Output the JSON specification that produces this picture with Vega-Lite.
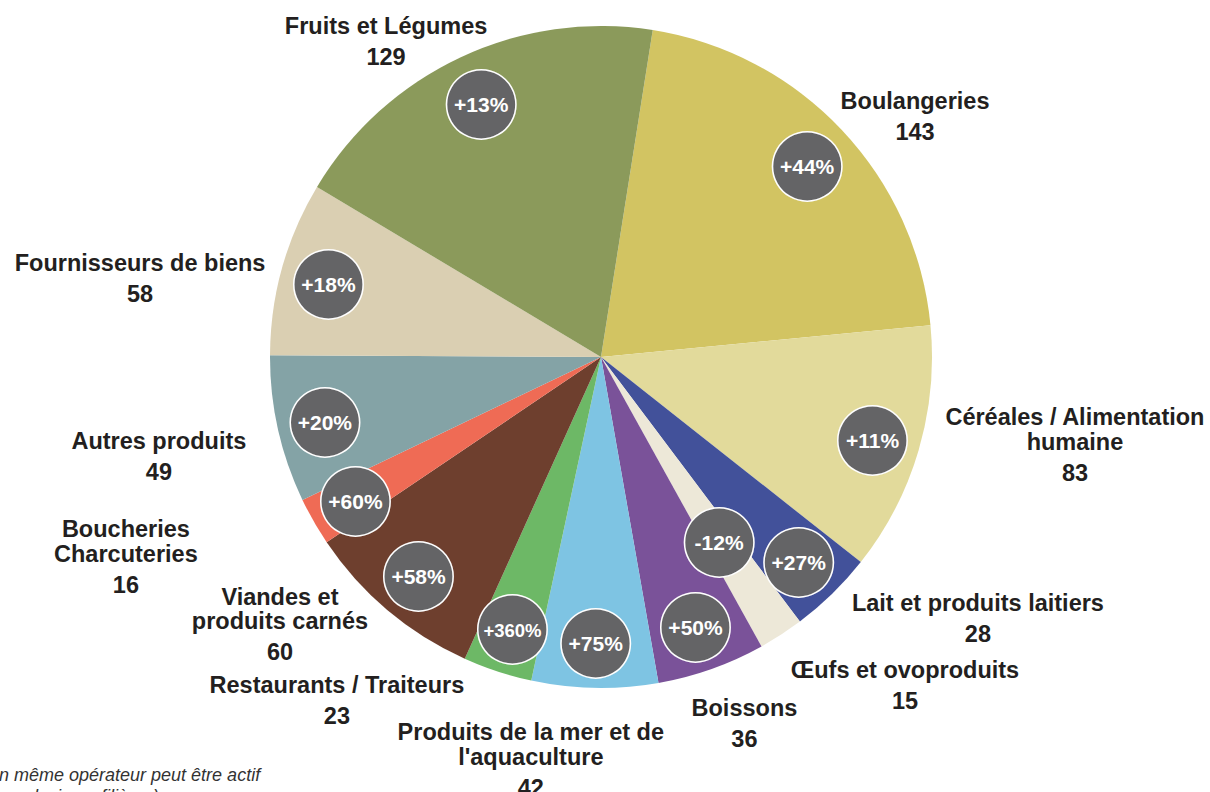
{
  "$schema": "https://vega.github.io/schema/vega-lite/v6.json",
  "autosize": "none",
  "width": 1202,
  "height": 714,
  "padding": {"left": 0, "top": 0, "right": 8, "bottom": 78},
  "background": "white",
  "config": {"view": {"stroke": null}},
  "title": {
    "text": ["(Un même opérateur peut être actif", "dans plusieurs filières)"],
    "orient": "bottom", "anchor": "start", "frame": "group",
    "offset": -135, "dx": -20, "baseline": "top", "align": "left",
    "font": "Liberation Sans", "fontSize": 18, "fontStyle": "italic", "fontWeight": "normal",
    "color": "#333333", "lineHeight": 21
  },
  "data": {"values": [
    {"o": 1, "k": "boul", "label": "Boulangeries", "n": 143, "pct": "+44%"},
    {"o": 2, "k": "cer", "label": "Céréales / Alimentation\nhumaine", "n": 83, "pct": "+11%"},
    {"o": 3, "k": "lait", "label": "Lait et produits laitiers", "n": 28, "pct": "+27%"},
    {"o": 4, "k": "oeufs", "label": "Œufs et ovoproduits", "n": 15, "pct": "-12%"},
    {"o": 5, "k": "boiss", "label": "Boissons", "n": 36, "pct": "+50%"},
    {"o": 6, "k": "prod", "label": "Produits de la mer et de\nl'aquaculture", "n": 42, "pct": "+75%"},
    {"o": 7, "k": "rest", "label": "Restaurants / Traiteurs", "n": 23, "pct": "+360%"},
    {"o": 8, "k": "viand", "label": "Viandes et\nproduits carnés", "n": 60, "pct": "+58%"},
    {"o": 9, "k": "bouch", "label": "Boucheries\nCharcuteries", "n": 16, "pct": "+60%"},
    {"o": 10, "k": "autres", "label": "Autres produits", "n": 49, "pct": "+20%"},
    {"o": 11, "k": "fourn", "label": "Fournisseurs de biens", "n": 58, "pct": "+18%"},
    {"o": 12, "k": "fruits", "label": "Fruits et Légumes", "n": 129, "pct": "+13%"}
  ]},
  "encoding": {
    "theta": {"field": "n", "type": "quantitative", "stack": true, "scale": {"range": [0.157, 6.4402], "nice": false}},
    "order": {"field": "o", "type": "quantitative"},
    "detail": {"field": "k", "type": "nominal"}
  },
  "layer": [
    {"mark": {"type": "arc", "radius": 331},
     "encoding": {"color": {"field": "k", "type": "nominal", "legend": null,
       "scale": {"domain": ["boul", "cer", "lait", "oeufs", "boiss", "prod", "rest", "viand", "bouch", "autres", "fourn", "fruits"],
                 "range": ["#d2c462", "#e2da9b", "#42519a", "#ede8d8", "#7a5299", "#7ec4e3", "#6db866", "#6e3f2e", "#ef6b55", "#84a3a6", "#dacfb2", "#8b9a5b"]}}}},
    {"mark": {"type": "text", "radius": 283, "font": "DejaVu Sans", "fontSize": 91, "fill": "#646466", "stroke": "#ffffff", "strokeWidth": 1.5, "baseline": "middle", "align": "center"},
     "encoding": {"text": {"condition": {"test": "datum.k !== 'oeufs'", "value": "●"}, "value": ""}}},
    {"mark": {"type": "text", "radius": 217, "font": "DejaVu Sans", "fontSize": 91, "fill": "#646466", "stroke": "#ffffff", "strokeWidth": 1.5, "baseline": "middle", "align": "center"},
     "encoding": {"text": {"condition": {"test": "datum.k === 'oeufs'", "value": "●"}, "value": ""}}},
    {"mark": {"type": "text", "radius": 283, "dy": 5, "font": "Liberation Sans", "fontWeight": "bold", "fill": "#ffffff", "baseline": "middle", "align": "center"},
     "encoding": {"text": {"condition": {"test": "datum.k !== 'oeufs'", "field": "pct", "type": "nominal"}, "value": ""},
                  "size": {"condition": {"test": "datum.k === 'rest'", "value": 18.5}, "value": 21}}},
    {"mark": {"type": "text", "radius": 217, "dy": 5, "font": "Liberation Sans", "fontWeight": "bold", "fontSize": 21, "fill": "#ffffff", "baseline": "middle", "align": "center"},
     "encoding": {"text": {"condition": {"test": "datum.k === 'oeufs'", "field": "pct", "type": "nominal"}, "value": ""}}},

    {"mark": {"type": "text", "radius": 395.8, "thetaOffset": 0.1007, "baseline": "bottom", "dy": -2, "align": "center", "lineBreak": "\n", "lineHeight": 24.5, "font": "Liberation Sans", "fontWeight": "bold", "fontSize": 23.5, "fill": "#231f20"},
     "encoding": {"text": {"condition": {"test": "datum.k === 'boul'", "field": "label", "type": "nominal"}, "value": ""}}},
    {"mark": {"type": "text", "radius": 395.8, "thetaOffset": 0.1007, "baseline": "top", "dy": 5, "align": "center", "font": "Liberation Sans", "fontWeight": "bold", "fontSize": 23.5, "fill": "#231f20"},
     "encoding": {"text": {"condition": {"test": "datum.k === 'boul'", "field": "n", "type": "quantitative"}, "value": ""}}},

    {"mark": {"type": "text", "radius": 484.3, "thetaOffset": -0.0789, "baseline": "bottom", "dy": -26.5, "align": "center", "lineBreak": "\n", "lineHeight": 24.5, "font": "Liberation Sans", "fontWeight": "bold", "fontSize": 23.5, "fill": "#231f20"},
     "encoding": {"text": {"condition": {"test": "datum.k === 'cer'", "field": "label", "type": "nominal"}, "value": ""}}},
    {"mark": {"type": "text", "radius": 484.3, "thetaOffset": -0.0789, "baseline": "top", "dy": 5, "align": "center", "font": "Liberation Sans", "fontWeight": "bold", "fontSize": 23.5, "fill": "#231f20"},
     "encoding": {"text": {"condition": {"test": "datum.k === 'cer'", "field": "n", "type": "quantitative"}, "value": ""}}},

    {"mark": {"type": "text", "radius": 458.5, "thetaOffset": -0.1915, "baseline": "bottom", "dy": -2, "align": "center", "lineBreak": "\n", "lineHeight": 24.5, "font": "Liberation Sans", "fontWeight": "bold", "fontSize": 23.5, "fill": "#231f20"},
     "encoding": {"text": {"condition": {"test": "datum.k === 'lait'", "field": "label", "type": "nominal"}, "value": ""}}},
    {"mark": {"type": "text", "radius": 458.5, "thetaOffset": -0.1915, "baseline": "top", "dy": 5, "align": "center", "font": "Liberation Sans", "fontWeight": "bold", "fontSize": 23.5, "fill": "#231f20"},
     "encoding": {"text": {"condition": {"test": "datum.k === 'lait'", "field": "n", "type": "quantitative"}, "value": ""}}},

    {"mark": {"type": "text", "radius": 447.2, "thetaOffset": -0.1719, "baseline": "bottom", "dy": -2, "align": "center", "lineBreak": "\n", "lineHeight": 24.5, "font": "Liberation Sans", "fontWeight": "bold", "fontSize": 23.5, "fill": "#231f20"},
     "encoding": {"text": {"condition": {"test": "datum.k === 'oeufs'", "field": "label", "type": "nominal"}, "value": ""}}},
    {"mark": {"type": "text", "radius": 447.2, "thetaOffset": -0.1719, "baseline": "top", "dy": 5, "align": "center", "font": "Liberation Sans", "fontWeight": "bold", "fontSize": 23.5, "fill": "#231f20"},
     "encoding": {"text": {"condition": {"test": "datum.k === 'oeufs'", "field": "n", "type": "quantitative"}, "value": ""}}},

    {"mark": {"type": "text", "radius": 393.1, "thetaOffset": -0.033, "baseline": "bottom", "dy": -2, "align": "center", "lineBreak": "\n", "lineHeight": 24.5, "font": "Liberation Sans", "fontWeight": "bold", "fontSize": 23.5, "fill": "#231f20"},
     "encoding": {"text": {"condition": {"test": "datum.k === 'boiss'", "field": "label", "type": "nominal"}, "value": ""}}},
    {"mark": {"type": "text", "radius": 393.1, "thetaOffset": -0.033, "baseline": "top", "dy": 5, "align": "center", "font": "Liberation Sans", "fontWeight": "bold", "fontSize": 23.5, "fill": "#231f20"},
     "encoding": {"text": {"condition": {"test": "datum.k === 'boiss'", "field": "n", "type": "quantitative"}, "value": ""}}},

    {"mark": {"type": "text", "radius": 420.4, "thetaOffset": 0.1489, "baseline": "bottom", "dy": -26.5, "align": "center", "lineBreak": "\n", "lineHeight": 24.5, "font": "Liberation Sans", "fontWeight": "bold", "fontSize": 23.5, "fill": "#231f20"},
     "encoding": {"text": {"condition": {"test": "datum.k === 'prod'", "field": "label", "type": "nominal"}, "value": ""}}},
    {"mark": {"type": "text", "radius": 420.4, "thetaOffset": 0.1489, "baseline": "top", "dy": 5, "align": "center", "font": "Liberation Sans", "fontWeight": "bold", "fontSize": 23.5, "fill": "#231f20"},
     "encoding": {"text": {"condition": {"test": "datum.k === 'prod'", "field": "n", "type": "quantitative"}, "value": ""}}},

    {"mark": {"type": "text", "radius": 432.8, "thetaOffset": 0.3381, "baseline": "bottom", "dy": -2, "align": "center", "lineBreak": "\n", "lineHeight": 24.5, "font": "Liberation Sans", "fontWeight": "bold", "fontSize": 23.5, "fill": "#231f20"},
     "encoding": {"text": {"condition": {"test": "datum.k === 'rest'", "field": "label", "type": "nominal"}, "value": ""}}},
    {"mark": {"type": "text", "radius": 432.8, "thetaOffset": 0.3381, "baseline": "top", "dy": 5, "align": "center", "font": "Liberation Sans", "fontWeight": "bold", "fontSize": 23.5, "fill": "#231f20"},
     "encoding": {"text": {"condition": {"test": "datum.k === 'rest'", "field": "n", "type": "quantitative"}, "value": ""}}},

    {"mark": {"type": "text", "radius": 425.6, "thetaOffset": 0.1541, "baseline": "bottom", "dy": -26.5, "align": "center", "lineBreak": "\n", "lineHeight": 24.5, "font": "Liberation Sans", "fontWeight": "bold", "fontSize": 23.5, "fill": "#231f20"},
     "encoding": {"text": {"condition": {"test": "datum.k === 'viand'", "field": "label", "type": "nominal"}, "value": ""}}},
    {"mark": {"type": "text", "radius": 425.6, "thetaOffset": 0.1541, "baseline": "top", "dy": 5, "align": "center", "font": "Liberation Sans", "fontWeight": "bold", "fontSize": 23.5, "fill": "#231f20"},
     "encoding": {"text": {"condition": {"test": "datum.k === 'viand'", "field": "n", "type": "quantitative"}, "value": ""}}},

    {"mark": {"type": "text", "radius": 520.2, "thetaOffset": 0.1007, "baseline": "bottom", "dy": -26.5, "align": "center", "lineBreak": "\n", "lineHeight": 24.5, "font": "Liberation Sans", "fontWeight": "bold", "fontSize": 23.5, "fill": "#231f20"},
     "encoding": {"text": {"condition": {"test": "datum.k === 'bouch'", "field": "label", "type": "nominal"}, "value": ""}}},
    {"mark": {"type": "text", "radius": 520.2, "thetaOffset": 0.1007, "baseline": "top", "dy": 5, "align": "center", "font": "Liberation Sans", "fontWeight": "bold", "fontSize": 23.5, "fill": "#231f20"},
     "encoding": {"text": {"condition": {"test": "datum.k === 'bouch'", "field": "n", "type": "quantitative"}, "value": ""}}},

    {"mark": {"type": "text", "radius": 453.1, "thetaOffset": 0, "baseline": "bottom", "dy": -2, "align": "center", "lineBreak": "\n", "lineHeight": 24.5, "font": "Liberation Sans", "fontWeight": "bold", "fontSize": 23.5, "fill": "#231f20"},
     "encoding": {"text": {"condition": {"test": "datum.k === 'autres'", "field": "label", "type": "nominal"}, "value": ""}}},
    {"mark": {"type": "text", "radius": 453.1, "thetaOffset": 0, "baseline": "top", "dy": 5, "align": "center", "font": "Liberation Sans", "fontWeight": "bold", "fontSize": 23.5, "fill": "#231f20"},
     "encoding": {"text": {"condition": {"test": "datum.k === 'autres'", "field": "n", "type": "quantitative"}, "value": ""}}},

    {"mark": {"type": "text", "radius": 467.7, "thetaOffset": -0.1023, "baseline": "bottom", "dy": -2, "align": "center", "lineBreak": "\n", "lineHeight": 24.5, "font": "Liberation Sans", "fontWeight": "bold", "fontSize": 23.5, "fill": "#231f20"},
     "encoding": {"text": {"condition": {"test": "datum.k === 'fourn'", "field": "label", "type": "nominal"}, "value": ""}}},
    {"mark": {"type": "text", "radius": 467.7, "thetaOffset": -0.1023, "baseline": "top", "dy": 5, "align": "center", "font": "Liberation Sans", "fontWeight": "bold", "fontSize": 23.5, "fill": "#231f20"},
     "encoding": {"text": {"condition": {"test": "datum.k === 'fourn'", "field": "n", "type": "quantitative"}, "value": ""}}},

    {"mark": {"type": "text", "radius": 382.2, "thetaOffset": -0.16, "baseline": "bottom", "dy": -2, "align": "center", "lineBreak": "\n", "lineHeight": 24.5, "font": "Liberation Sans", "fontWeight": "bold", "fontSize": 23.5, "fill": "#231f20"},
     "encoding": {"text": {"condition": {"test": "datum.k === 'fruits'", "field": "label", "type": "nominal"}, "value": ""}}},
    {"mark": {"type": "text", "radius": 382.2, "thetaOffset": -0.16, "baseline": "top", "dy": 5, "align": "center", "font": "Liberation Sans", "fontWeight": "bold", "fontSize": 23.5, "fill": "#231f20"},
     "encoding": {"text": {"condition": {"test": "datum.k === 'fruits'", "field": "n", "type": "quantitative"}, "value": ""}}}
  ]
}
